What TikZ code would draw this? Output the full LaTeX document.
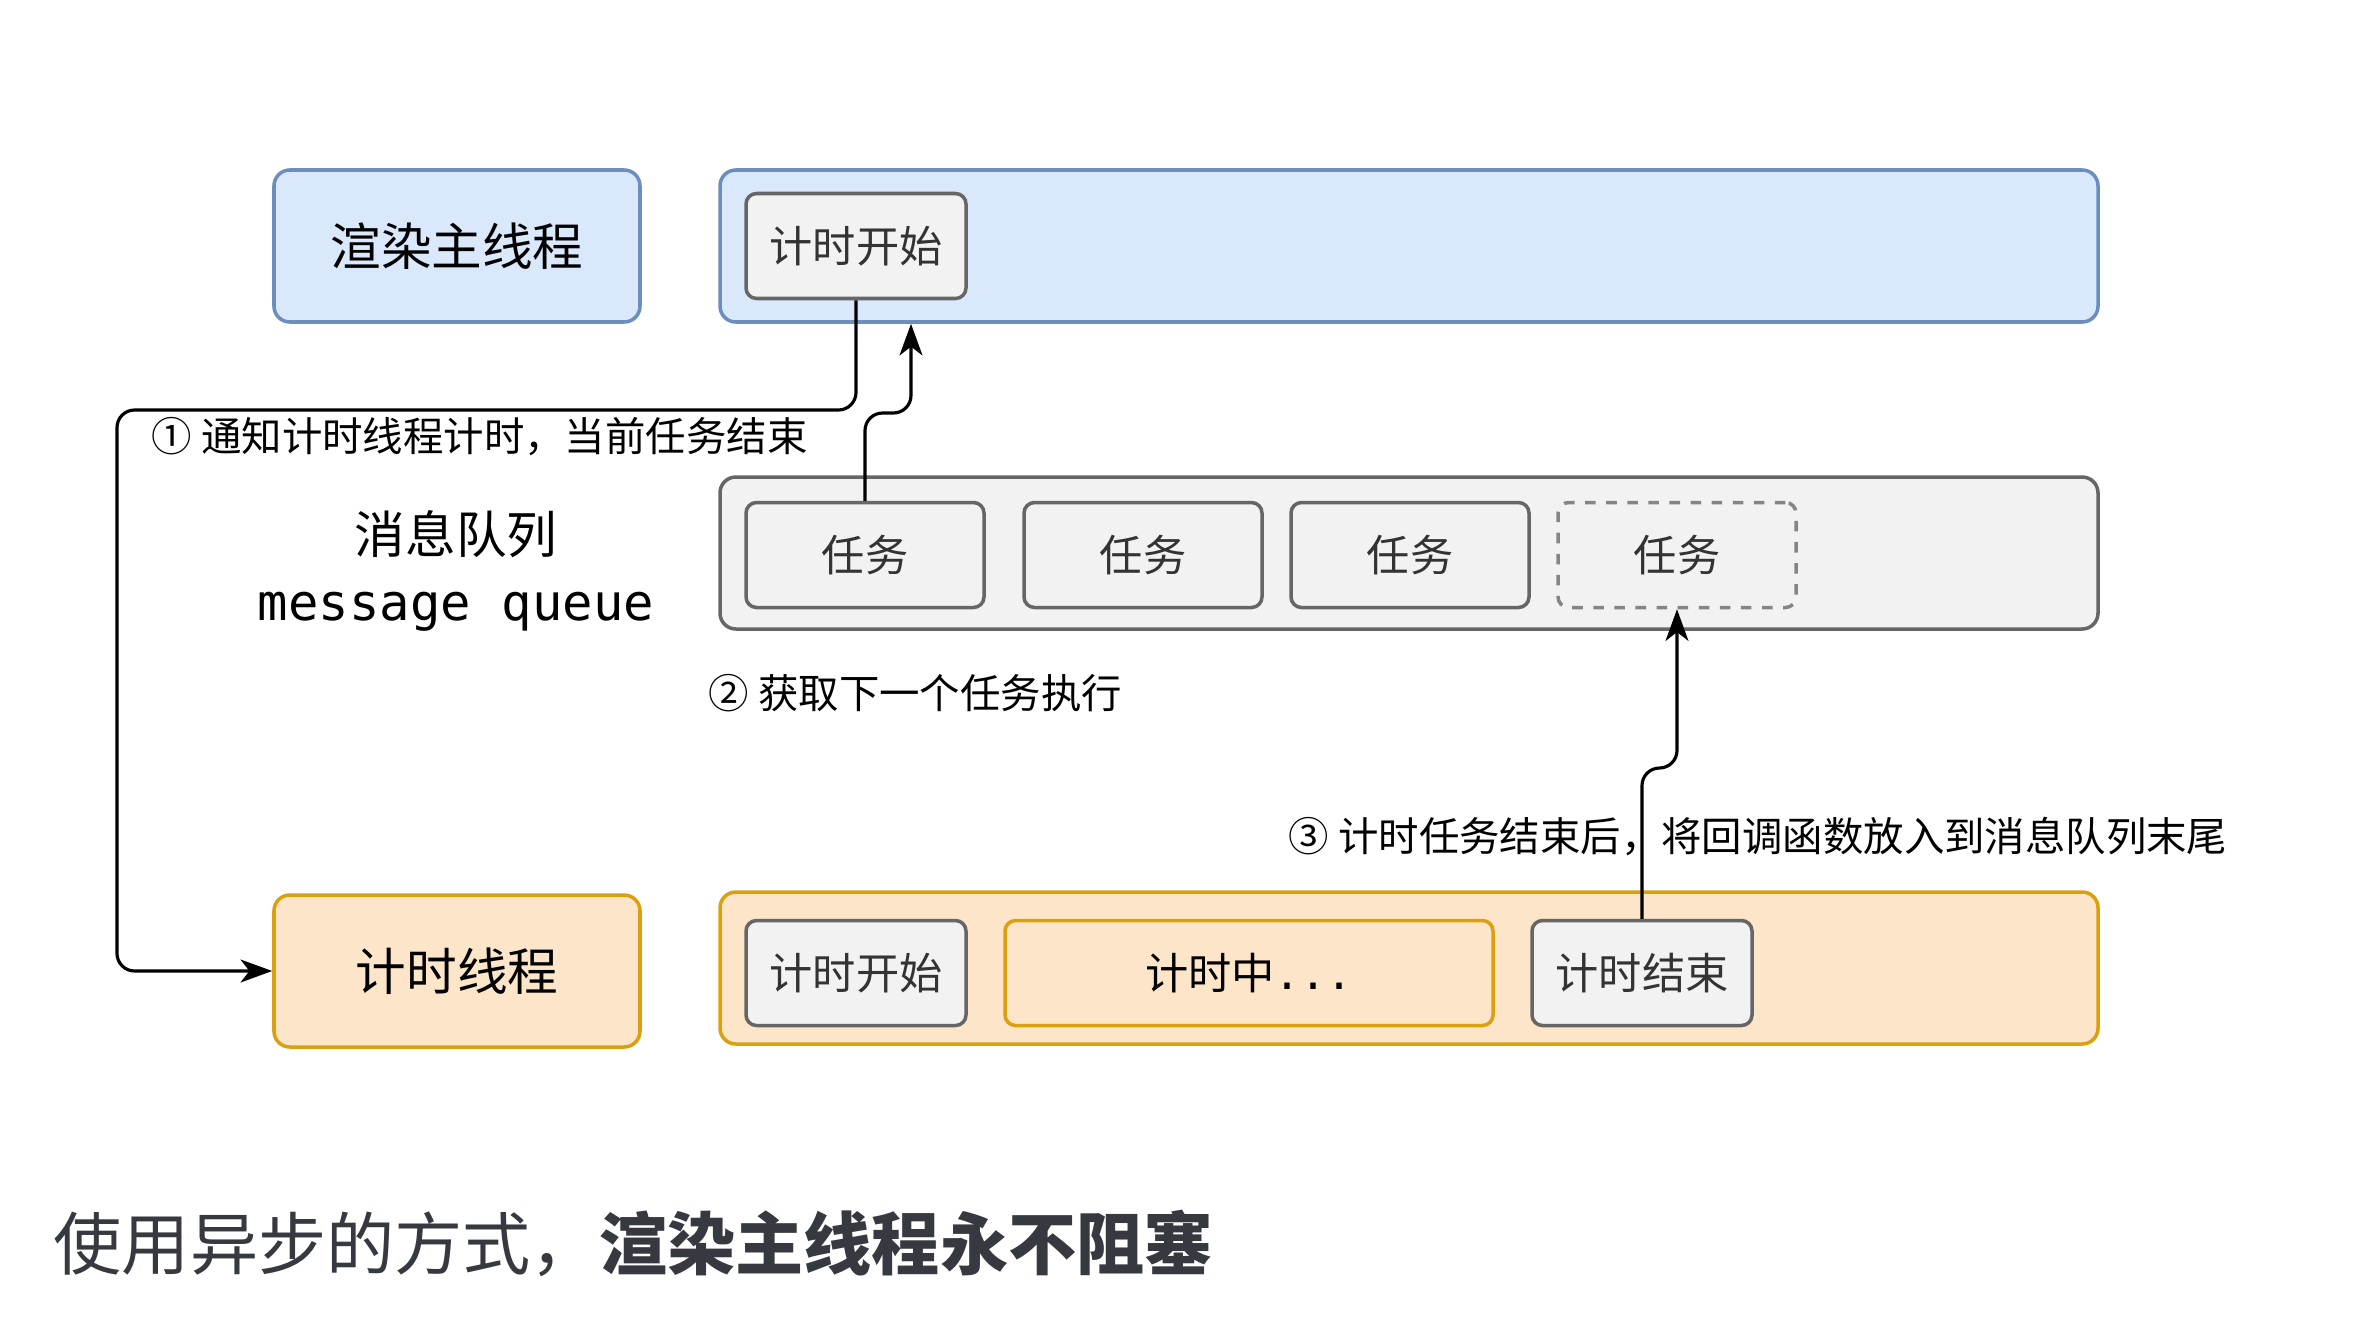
\documentclass[tikz,border=0pt]{standalone}
\usepackage{fontspec}
\setmainfont{Noto Sans CJK SC}
\newfontfamily\monofont{DejaVu Sans Mono}
\usetikzlibrary{arrows.meta}
\definecolor{blueFill}{HTML}{DAE8FC}
\definecolor{blueLine}{HTML}{6C8EBF}
\definecolor{orangeFill}{HTML}{FCE5C8}
\definecolor{orangeLine}{HTML}{DBA010}
\definecolor{grayFill}{HTML}{F2F2F2}
\definecolor{grayLine}{HTML}{666666}
\definecolor{grayText}{HTML}{333333}
\definecolor{noteText}{HTML}{363A40}
\begin{document}
\begin{tikzpicture}[
x=0.1mm,y=-0.1mm,
every node/.style={inner sep=0pt},
thread/.style={draw,line width=1pt,rounded corners=4.5pt,minimum width=36.6mm,minimum height=15.2mm,font=\fontsize{14.4}{17}\selectfont},
band/.style={draw,line width=1pt,rounded corners=4.5pt,minimum width=137.8mm,minimum height=15.2mm},
task/.style={draw=grayLine,fill=grayFill,text=grayText,line width=1pt,rounded corners=3pt,minimum height=10.5mm,font=\fontsize{12.3}{15}\selectfont},
lbl/.style={anchor=west,font=\fontsize{11.5}{14}\selectfont},
arr/.style={-{Stealth[length=9pt,width=6.5pt,inset=2.5pt]},line width=0.9pt,rounded corners=5pt}
]
\useasboundingbox (0,0) rectangle (2362,1318);
\node[thread,fill=blueFill,draw=blueLine] (main) at (457,246) {渲染主线程};
\node[band,fill=blueFill,draw=blueLine] (mainband) at (1409,246) {};
\node[task,minimum width=22mm] (start1) at (856,246) {计时开始};
\node[align=center,font=\fontsize{14.4}{19}\selectfont] (queue) at (456,571) {消息队列\\{\monofont message queue}};
\node[band,fill=grayFill,draw=grayLine] (qband) at (1409,553) {};
\node[task,minimum width=23.8mm] (t1) at (865,555) {任务};
\node[task,minimum width=23.8mm] (t2) at (1143,555) {任务};
\node[task,minimum width=23.8mm] (t3) at (1410,555) {任务};
\node[task,minimum width=23.8mm,dashed,draw=grayLine!80] (t4) at (1677,555) {任务};
\node[thread,fill=orangeFill,draw=orangeLine] (timer) at (457,971) {计时线程};
\node[band,fill=orangeFill,draw=orangeLine] (tband) at (1409,968) {};
\node[task,minimum width=22mm] (start2) at (856,973) {计时开始};
\node[task,minimum width=48.8mm,fill=orangeFill,draw=orangeLine,text=black] (timing) at (1249,973) {计时中{\monofont ...}};
\node[task,minimum width=22mm] (end) at (1642,973) {计时结束};
\node[lbl] (n1) at (151,437) {① 通知计时线程计时，当前任务结束};
\node[lbl] (n2) at (708,693) {② 获取下一个任务执行};
\node[lbl] (n3) at (1288,836) {③ 计时任务结束后，将回调函数放入到消息队列末尾};
\node[anchor=west,text=noteText,font=\fontsize{19.4}{23}\selectfont] (summary) at (53,1243) {使用异步的方式，\textbf{渲染主线程永不阻塞}};
\coordinate (c1) at (117,410);
\coordinate (j2) at (911,413);
\coordinate (j3) at (1677,768);
\draw[arr] (start1.south) |- (c1) |- (timer.west);
\draw[arr] (t1.north) |- (j2) -- (j2 |- mainband.south);
\draw[arr] (end.north) |- (j3) -- (t4.south);
\end{tikzpicture}
\end{document}
